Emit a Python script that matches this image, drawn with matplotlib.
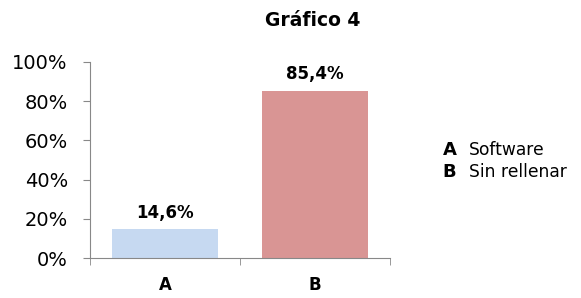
import matplotlib.pyplot as plt
import numpy as np
from matplotlib.ticker import FuncFormatter

categories = ['A', 'B']
values = [14.6, 85.4]
legend_names = ['Software', 'Sin rellenar']
colors = ['#C6D9F1', '#D99594']

plt.rcParams['font.family'] = 'DejaVu Sans'

fig = plt.figure(figsize=(5.81, 2.98), dpi=100)
ax = fig.add_axes([0.155, 0.134, 0.516, 0.658])

x = np.arange(len(categories))
ax.bar(x, values, width=0.71, color=colors)

for xi, v in zip(x, values):
    ax.text(xi, v + 4, ('%.1f%%' % v).replace('.', ','), ha='center', va='bottom',
            fontsize=12, fontweight='bold')

ax.set_xlim(-0.5, 1.5)
ax.set_ylim(0, 100)
ax.set_yticks(np.arange(0, 101, 20))
ax.yaxis.set_major_formatter(FuncFormatter(lambda v, p: '%d%%' % v))
ax.set_xticks(x)
ax.set_xticklabels(categories, fontsize=12, fontweight='bold')
ax.set_xticks([-0.5, 0.5, 1.5], minor=True)
ax.tick_params(axis='x', which='major', length=0, pad=13)
ax.tick_params(axis='x', which='minor', length=5, color='#888888')
ax.tick_params(axis='y', labelsize=14, length=5, pad=11, color='#888888')

for s in ['top', 'right']:
    ax.spines[s].set_visible(False)
ax.spines['left'].set_color('#888888')
ax.spines['bottom'].set_color('#888888')

fig.text(0.538, 0.93, 'Gráfico 4', ha='center', va='center', fontsize=13.5, fontweight='bold')

ly = [0.496, 0.422]
for cat, name, yy in zip(categories, legend_names, ly):
    fig.text(0.762, yy, cat, ha='left', va='center', fontsize=13, fontweight='bold')
    fig.text(0.807, yy, name, ha='left', va='center', fontsize=12.3)

fig.savefig('out.png', dpi=100)
